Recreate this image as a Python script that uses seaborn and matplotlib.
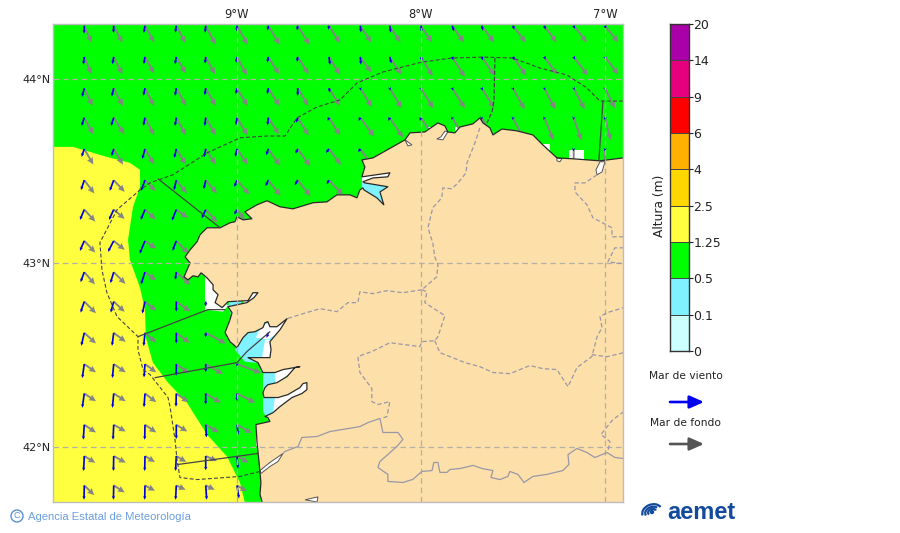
import numpy as np
import matplotlib
matplotlib.use("Agg")
import matplotlib.pyplot as plt
from matplotlib.colors import ListedColormap
from matplotlib.patches import Ellipse, Arc
import seaborn as sns

N = np.nan

# ---- colour scale ----
level_labels = ["0", "0.1", "0.5", "1.25", "2.5", "4", "6", "9", "14", "20"]
level_colors = ["#ccffff", "#80f2ff", "#00ff00", "#ffff40", "#ffd700",
                "#ffb000", "#ff0000", "#e6007e", "#aa00aa"]

# ---- wave grid ----
grid_lon = [-9.83, -9.67, -9.50, -9.33, -9.17, -9.00, -8.83, -8.67, -8.50,
            -8.33, -8.17, -8.00, -7.83, -7.67, -7.50, -7.33, -7.17, -7.00]
grid_lat = [44.29, 44.12, 43.95, 43.79, 43.62, 43.45, 43.29, 43.12,
            42.95, 42.79, 42.62, 42.45, 42.29, 42.12, 41.95, 41.79]

# wind sea, eastward and southward components
wind_east = [
    [-0.3, -0.3, -1.3, -1, -0.7, -0.3, -0.7, -0.7, -0.7, 0.7, 1, 0.7, 1.7, 1.3, 1.3, 1.3, 1, 1],
    [-1, -1.3, -1.3, -1.3, -0.7, -1, -1, -0.7, 1, 0.7, 1.7, 1, 1, 1.3, 1.7, 1.3, 1.3, 1],
    [-2.3, -2, -1.7, -1.3, -1, -1.3, -1, 0, 1, 0.7, 0.7, 1, 1, 1, 1, 1, 1, 1],
    [-2.7, -2.7, -1.7, -1.3, -1, -1, -0.7, -1.7, -1.3, -1.7, -1.3, -1.3, -0.7, -0.3, -0.7, -0.7, -0.7, -0.7],
    [-2.7, -2.3, -2.7, -2, -1.7, -1.7, -2, -2.3, -3, -2, -1.7, N, N, N, N, N, -0.5, -0.5],
    [-3.3, -4, -4, -2.3, -2, -2.7, -2.7, -3, -2.3, N, N, N, N, N, N, N, N, N],
    [-4.3, -4.7, -4.3, -4.3, -4, -2.7, N, N, N, N, N, N, N, N, N, N, N, N],
    [-4.3, -5.7, -5.3, -3.7, N, N, N, N, N, N, N, N, N, N, N, N, N, N],
    [-3.7, -3.3, -4, -1, N, N, N, N, N, N, N, N, N, N, N, N, N, N],
    [-3.7, -3, -2.7, 0, 0, N, N, N, N, N, N, N, N, N, N, N, N, N],
    [-3, -1.7, -1.3, 0, 0, N, -1.7, N, N, N, N, N, N, N, N, N, N, N],
    [-2, -1.3, -1, 0, 0, 0, N, N, N, N, N, N, N, N, N, N, N, N],
    [-2, -1.3, -1, -0.3, 0, 0, N, N, N, N, N, N, N, N, N, N, N, N],
    [-1, -0.7, -0.3, 0, 0.7, 1.3, N, N, N, N, N, N, N, N, N, N, N, N],
    [-0.7, -0.3, -0.3, -0.7, 0, 1, N, N, N, N, N, N, N, N, N, N, N, N],
    [-0.3, -0.3, -0.3, -0.7, 1, 2, N, N, N, N, N, N, N, N, N, N, N, N],
]
wind_south = [
    [8, 7.3, 7.3, 7, 7, 5.7, 5, 4.7, 4, 6.7, 7, 6.7, 5.7, 5, 4, 4, 3.3, 3.3],
    [7.7, 7.3, 7.3, 7.3, 6.7, 6, 5.7, 5, 8, 7.7, 6.7, 4.3, 3.3, 3.3, 3.3, 2.7, 2.7, 2.7],
    [8.7, 8.3, 7.7, 7.7, 7, 6, 6, 7.7, 4.3, 2.3, 2.3, 2.3, 2.3, 2.3, 2, 2, 2, 2],
    [8.3, 8.3, 8.3, 8.3, 8.3, 7.7, 7.7, 5, 3.3, 3.3, 3.3, 3.3, 2.3, 2.3, 2.3, 2.3, 2.3, 2.3],
    [8, 7.3, 10, 9, 8.3, 8, 6.3, 4.7, 4, 3.3, 3.3, N, N, N, N, N, 2.5, 2.5],
    [10, 10.7, 10.7, 10, 9, 6.7, 6, 5, 4, N, N, N, N, N, N, N, N, N],
    [10.3, 10.3, 10.3, 11, 8.7, 5, N, N, N, N, N, N, N, N, N, N, N, N],
    [10, 11, 12.7, 10, N, N, N, N, N, N, N, N, N, N, N, N, N, N],
    [10, 11, 12.3, 7.7, N, N, N, N, N, N, N, N, N, N, N, N, N, N],
    [11, 11, 12, 10, 5, N, N, N, N, N, N, N, N, N, N, N, N, N],
    [13, 13, 13.3, 10.7, 4.7, N, 5, N, N, N, N, N, N, N, N, N, N, N],
    [14, 14, 13.3, 11.7, 8.3, 2.7, N, N, N, N, N, N, N, N, N, N, N, N],
    [14.3, 14.3, 13.7, 13.3, 11, 7.7, N, N, N, N, N, N, N, N, N, N, N, N],
    [15, 15, 15, 14.3, 12.7, 10, N, N, N, N, N, N, N, N, N, N, N, N],
    [15, 15, 15, 15, 14.3, 12.7, N, N, N, N, N, N, N, N, N, N, N, N],
    [14.3, 14.3, 14.3, 14.3, 14.3, 13, N, N, N, N, N, N, N, N, N, N, N, N],
]

# swell, eastward and southward components
swell_east = [
    [7.5, 8.7, 9.3, 9.3, 10, 10.7, 11.3, 11.7, 11, 11, 10.7, 11, 11.7, 12.3, 12.7, 12.3, 13.3, 13.3],
    [7.3, 8.7, 9.3, 9.7, 9.3, 10, 11, 11, 11, 11, 11.7, 11.7, 12.7, 13, 13.3, 13, 14.3, 13.3],
    [8.3, 9.3, 9.3, 10, 10, 10.7, 11.3, 10.7, 11, 11.7, 12, 12.3, 12.7, 12.7, 11.7, 11, 11, 10],
    [9, 10.7, 9.3, 9.7, 10, 10.7, 10.7, 11, 11, 14, 13.3, 13, 12, 11, 10.5, 9.3, 7.7, 5.7],
    [9, 9.3, 9.3, 9.7, 10, 10.7, 11.7, 12.3, 12, 12, 12, N, N, N, N, N, 0, -0.5],
    [10, 11, 10.7, 10.7, 11.3, 12.3, 12.3, 12.7, 14, N, N, N, N, N, N, N, N, N],
    [11, 11, 10.7, 11.7, 11.7, 8, N, N, N, N, N, N, N, N, N, N, N, N],
    [11, 11, 11.3, 12.3, N, N, N, N, N, N, N, N, N, N, N, N, N, N],
    [10.7, 11.7, 11.3, 14, N, N, N, N, N, N, N, N, N, N, N, N, N, N],
    [11.7, 11, 11.3, 14, N, N, N, N, N, N, N, N, N, N, N, N, N, N],
    [11.7, 12, 11.3, 13.3, 20, N, N, N, N, N, N, N, N, N, N, N, N, N],
    [11.7, 12, 11.3, 12.7, 17.3, 24, N, N, N, N, N, N, N, N, N, N, N, N],
    [11.7, 12, 11.3, 12.3, 15, 18.3, N, N, N, N, N, N, N, N, N, N, N, N],
    [11.7, 12, 11.3, 11, 13.3, 14.7, N, N, N, N, N, N, N, N, N, N, N, N],
    [11, 12, 10, 10, 11.3, 11.7, N, N, N, N, N, N, N, N, N, N, N, N],
    [10, 11, 10, 9.3, 9, 10, N, N, N, N, N, N, N, N, N, N, N, N],
]
swell_south = [
    [17, 17, 17, 17.3, 19, 19, 19, 19, 17.5, 16.7, 16.7, 16.7, 16.7, 16.7, 16.7, 16.7, 16.7, 16.7],
    [17.3, 17.3, 16.7, 16.7, 17.3, 18.3, 17.3, 17.3, 18, 15.3, 17.7, 19.3, 20, 18.7, 18.7, 17.7, 18.7, 17.7],
    [17.7, 17.7, 17.7, 17.7, 17.7, 17.7, 17.7, 17.7, 17.7, 19, 20, 20, 20, 20, 21, 21, 21, 20],
    [16.7, 16.7, 17.7, 17.7, 17.7, 17.7, 16.7, 17.7, 17.7, 19, 20, 20, 20, 20, 21, 22.7, 22.7, 22.7],
    [15.7, 15.7, 15.7, 15.7, 15.7, 15.7, 16.7, 17.3, 16, 17, 17, N, N, N, N, N, 18, 18],
    [13.3, 11.7, 11, 13.3, 13.3, 14.3, 15.7, 16, 15, N, N, N, N, N, N, N, N, N],
    [12, 9.3, 10, 8.3, 12.7, 10, N, N, N, N, N, N, N, N, N, N, N, N],
    [11.7, 9, 8, 12.7, N, N, N, N, N, N, N, N, N, N, N, N, N, N],
    [12.3, 11.7, 8.3, 12.7, N, N, N, N, N, N, N, N, N, N, N, N, N, N],
    [11.7, 10.3, 9.3, 10, N, N, N, N, N, N, N, N, N, N, N, N, N, N],
    [10.7, 9, 9.7, 10, 10.7, N, N, N, N, N, N, N, N, N, N, N, N, N],
    [8.3, 8.3, 8.3, 9, 10, 9, N, N, N, N, N, N, N, N, N, N, N, N],
    [7.7, 7.7, 8.7, 8.7, 9.3, 9.3, N, N, N, N, N, N, N, N, N, N, N, N],
    [7.7, 6.7, 7.7, 6.7, 7.7, 8.3, N, N, N, N, N, N, N, N, N, N, N, N],
    [6.7, 6.7, 6, 6, 5, 6.7, N, N, N, N, N, N, N, N, N, N, N, N],
    [9.7, 7, 5.3, 4.3, 4.3, 6, N, N, N, N, N, N, N, N, N, N, N, N],
]

# ---- sea height area above 1.25 m (lon, lat) ----
high_sea = [(-10, 43.631), (-9.891, 43.631), (-9.706, 43.576), (-9.582, 43.544), (-9.527, 43.506),
            (-9.527, 43.414), (-9.565, 43.305), (-9.592, 43.126), (-9.582, 43.017), (-9.527, 42.865),
            (-9.500, 42.746), (-9.495, 42.594), (-9.457, 42.458), (-9.375, 42.349), (-9.272, 42.240),
            (-9.163, 42.067), (-9.054, 41.947), (-8.984, 41.806), (-8.957, 41.697), (-10, 41.697)]

# ---- coast (lon, lat), south to east ----
coast = [(-8.864, 41.703), (-8.875, 41.741), (-8.870, 41.806), (-8.875, 41.861), (-8.880, 41.915),
         (-8.891, 42.023), (-8.897, 42.121), (-8.821, 42.138), (-8.832, 42.159), (-8.848, 42.165),
         (-8.804, 42.186), (-8.766, 42.219), (-8.701, 42.268), (-8.647, 42.290), (-8.620, 42.311),
         (-8.620, 42.349), (-8.641, 42.344), (-8.658, 42.322), (-8.723, 42.284), (-8.777, 42.268),
         (-8.853, 42.268), (-8.859, 42.295), (-8.848, 42.322), (-8.832, 42.338), (-8.783, 42.349),
         (-8.728, 42.382), (-8.685, 42.431), (-8.658, 42.436), (-8.750, 42.420), (-8.793, 42.404),
         (-8.859, 42.404), (-8.886, 42.458), (-8.940, 42.485), (-8.886, 42.485), (-8.821, 42.485),
         (-8.815, 42.528), (-8.821, 42.572), (-8.766, 42.637), (-8.728, 42.697), (-8.783, 42.653),
         (-8.821, 42.653), (-8.832, 42.680), (-8.848, 42.675), (-8.859, 42.648), (-8.902, 42.626),
         (-8.940, 42.621), (-8.967, 42.594), (-9.000, 42.539), (-9.038, 42.572), (-9.065, 42.621),
         (-9.038, 42.691), (-9.027, 42.729), (-9.049, 42.762), (-8.946, 42.784), (-8.908, 42.811),
         (-8.886, 42.838), (-8.913, 42.838), (-8.940, 42.795), (-9.049, 42.789), (-9.081, 42.757),
         (-9.119, 42.784), (-9.103, 42.827), (-9.130, 42.854), (-9.130, 42.881), (-9.163, 42.919),
         (-9.195, 42.946), (-9.212, 42.924), (-9.239, 42.930), (-9.266, 42.908), (-9.288, 42.924),
         (-9.255, 43.000), (-9.282, 43.033), (-9.255, 43.071), (-9.217, 43.115), (-9.201, 43.153),
         (-9.163, 43.191), (-9.092, 43.191), (-9.038, 43.218), (-9.011, 43.224), (-9.000, 43.251),
         (-8.967, 43.234), (-8.919, 43.240), (-8.957, 43.278), (-8.891, 43.316), (-8.837, 43.338),
         (-8.766, 43.305), (-8.696, 43.294), (-8.587, 43.327), (-8.511, 43.332), (-8.457, 43.370),
         (-8.386, 43.370), (-8.348, 43.354), (-8.332, 43.397), (-8.316, 43.408), (-8.310, 43.397),
         (-8.240, 43.354), (-8.202, 43.316), (-8.223, 43.386), (-8.180, 43.414), (-8.305, 43.435),
         (-8.316, 43.441), (-8.261, 43.462), (-8.180, 43.468), (-8.169, 43.490), (-8.321, 43.468),
         (-8.305, 43.522), (-8.321, 43.560), (-8.261, 43.571), (-8.087, 43.669), (-8.060, 43.707),
         (-7.979, 43.712), (-7.908, 43.761), (-7.870, 43.745), (-7.854, 43.712), (-7.816, 43.707),
         (-7.788, 43.739), (-7.718, 43.756), (-7.680, 43.788), (-7.663, 43.761), (-7.625, 43.734),
         (-7.609, 43.696), (-7.560, 43.728), (-7.479, 43.718), (-7.392, 43.696), (-7.338, 43.642),
         (-7.261, 43.571), (-7.174, 43.566), (-7.027, 43.555), (-6.902, 43.571)]
land_corners = [(-6.85, 43.571), (-6.85, 41.65), (-8.864, 41.65)]

# water inside the rias, drawn below the land
ria_shallow = [
    [(-9.011, 42.528), (-8.957, 42.610), (-8.864, 42.664), (-8.712, 42.718), (-8.793, 42.447), (-8.957, 42.463)],
    [(-8.859, 42.420), (-8.766, 42.420), (-8.766, 42.338), (-8.859, 42.268)],
    [(-8.859, 42.273), (-8.793, 42.273), (-8.793, 42.192), (-8.832, 42.148), (-8.859, 42.192)],
    [(-9.038, 42.805), (-8.973, 42.805), (-8.984, 42.751), (-9.027, 42.708), (-9.049, 42.762)],
    [(-8.321, 43.441), (-8.169, 43.425), (-8.196, 43.305), (-8.321, 43.386)],
]
ria_dry = [
    [(-8.864, 42.664), (-8.793, 42.680), (-8.723, 42.702), (-8.766, 42.626), (-8.832, 42.583), (-8.897, 42.594)],
    [(-8.848, 42.583), (-8.810, 42.583), (-8.810, 42.485), (-8.864, 42.485)],
    [(-8.793, 42.420), (-8.674, 42.447), (-8.701, 42.409), (-8.755, 42.365), (-8.793, 42.338)],
    [(-8.793, 42.273), (-8.614, 42.355), (-8.614, 42.306), (-8.766, 42.219), (-8.804, 42.186)],
    [(-8.973, 42.805), (-8.880, 42.849), (-8.908, 42.800), (-8.957, 42.767)],
    [(-9.174, 42.924), (-9.174, 42.746), (-9.076, 42.735), (-9.049, 42.767), (-9.081, 42.795), (-9.119, 42.849), (-9.136, 42.924)],
    [(-8.321, 43.468), (-8.163, 43.495), (-8.169, 43.462), (-8.321, 43.435)],
    [(-7.197, 43.615), (-7.115, 43.615), (-7.115, 43.560), (-7.197, 43.560)],
    [(-7.348, 43.648), (-7.299, 43.648), (-7.299, 43.590), (-7.348, 43.590)],
    [(-7.968, 43.740), (-7.919, 43.740), (-7.919, 43.700), (-7.968, 43.700)],
    [(-7.816, 43.740), (-7.767, 43.740), (-7.767, 43.715), (-7.816, 43.715)],
    [(-8.897, 42.110), (-8.870, 42.110), (-8.870, 42.006), (-8.897, 42.006)],
]
# narrow estuaries cut into the land
estuaries = [
    [(-8.875, 41.871), (-8.821, 41.915), (-8.750, 41.964), (-8.777, 41.920), (-8.821, 41.893), (-8.870, 41.855)],
    [(-7.027, 43.550), (-7.000, 43.550), (-7.016, 43.495), (-7.043, 43.479), (-7.049, 43.506)],
    [(-7.914, 43.674), (-7.881, 43.669), (-7.854, 43.712), (-7.870, 43.717), (-7.892, 43.685)],
    [(-8.087, 43.669), (-8.049, 43.642), (-8.071, 43.636)],
    [(-7.261, 43.571), (-7.234, 43.566), (-7.245, 43.550), (-7.261, 43.555)],
    [(-8.630, 41.712), (-8.560, 41.728), (-8.565, 41.700)],
]

# ---- lines ----
limit_line = [(-6.902, 43.880), (-7.027, 43.880), (-7.098, 43.951), (-7.207, 44.022), (-7.354, 44.060),
              (-7.501, 44.114), (-7.663, 44.119), (-7.832, 44.114), (-7.995, 44.092), (-8.207, 44.038),
              (-8.348, 43.978), (-8.440, 43.886), (-8.565, 43.848), (-8.674, 43.788), (-8.739, 43.690),
              (-8.837, 43.690), (-8.984, 43.680), (-9.163, 43.598), (-9.348, 43.479), (-9.473, 43.435),
              (-9.527, 43.397), (-9.652, 43.289), (-9.745, 43.110), (-9.734, 42.963), (-9.707, 42.838),
              (-9.652, 42.708), (-9.538, 42.599), (-9.538, 42.528), (-9.511, 42.420), (-9.473, 42.393),
              (-9.375, 42.268), (-9.364, 42.219), (-9.337, 42.040), (-9.326, 41.931), (-9.310, 41.833),
              (-9.217, 41.822), (-8.984, 41.839), (-8.875, 41.866)]
zone_lines = [
    [(-9.429, 43.457), (-9.092, 43.191)],
    [(-9.538, 42.599), (-9.158, 42.746), (-9.065, 42.746)],
    [(-9.446, 42.376), (-9.000, 42.458), (-8.946, 42.518), (-8.821, 42.626)],
    [(-9.321, 41.904), (-8.886, 41.964)],
    [(-7.011, 43.880), (-7.033, 43.560)],
]
zone_dashed = [[(-7.598, 44.114), (-7.603, 43.886), (-7.614, 43.821), (-7.641, 43.761)]]
province_lines = [
    [(-7.680, 43.734), (-7.707, 43.652), (-7.750, 43.544), (-7.755, 43.490), (-7.799, 43.435), (-7.832, 43.403),
     (-7.881, 43.408), (-7.887, 43.354), (-7.936, 43.300), (-7.962, 43.191), (-7.936, 43.109), (-7.925, 43.033),
     (-7.908, 42.990), (-7.914, 42.925), (-7.995, 42.854)],
    [(-7.995, 42.854), (-8.099, 42.838), (-8.185, 42.849), (-8.261, 42.833), (-8.332, 42.843), (-8.343, 42.784),
     (-8.397, 42.784), (-8.457, 42.735), (-8.549, 42.751), (-8.641, 42.724), (-8.728, 42.697)],
    [(-7.995, 42.854), (-7.968, 42.843), (-7.979, 42.784), (-7.870, 42.713), (-7.908, 42.599), (-7.925, 42.577),
     (-7.995, 42.572), (-8.006, 42.545), (-8.169, 42.566), (-8.267, 42.518), (-8.343, 42.491), (-8.332, 42.404),
     (-8.267, 42.317), (-8.267, 42.246), (-8.234, 42.230), (-8.169, 42.246), (-8.185, 42.165), (-8.212, 42.154)],
    [(-7.925, 42.577), (-7.897, 42.512), (-7.761, 42.458), (-7.680, 42.436), (-7.609, 42.404), (-7.516, 42.398),
     (-7.408, 42.442), (-7.337, 42.425), (-7.261, 42.420), (-7.201, 42.327), (-7.152, 42.431), (-7.071, 42.491),
     (-7.043, 42.599), (-7.016, 42.648), (-7.027, 42.708), (-6.989, 42.729), (-6.902, 42.756)],
    [(-7.071, 42.501), (-6.989, 42.490), (-6.897, 42.512)],
    [(-7.043, 43.479), (-7.109, 43.435), (-7.163, 43.435), (-7.163, 43.386), (-7.098, 43.316), (-7.065, 43.245),
     (-6.962, 43.191), (-6.962, 43.142), (-6.897, 43.142)],
    [(-6.897, 43.082), (-6.946, 43.082), (-6.984, 43.006), (-6.897, 42.995)],
    [(-6.897, 42.192), (-6.957, 42.148), (-7.022, 42.067), (-6.973, 42.029), (-6.984, 41.975)],
]
border_river = [(-8.750, 41.964), (-8.739, 41.975), (-8.668, 42.002), (-8.647, 42.051), (-8.565, 42.056),
                (-8.495, 42.083), (-8.332, 42.110), (-8.288, 42.132), (-8.223, 42.154), (-8.207, 42.078),
                (-8.125, 42.078), (-8.098, 42.040), (-8.131, 42.002), (-8.223, 41.920), (-8.234, 41.888),
                (-8.180, 41.850), (-8.180, 41.812), (-8.098, 41.806), (-8.044, 41.823), (-7.995, 41.866),
                (-7.940, 41.871), (-7.930, 41.915), (-7.908, 41.915), (-7.897, 41.861), (-7.859, 41.861),
                (-7.842, 41.877), (-7.788, 41.882), (-7.717, 41.899), (-7.668, 41.882), (-7.609, 41.871),
                (-7.620, 41.833), (-7.571, 41.822), (-7.528, 41.839), (-7.517, 41.866), (-7.473, 41.850),
                (-7.440, 41.806), (-7.392, 41.839), (-7.316, 41.850), (-7.229, 41.871), (-7.196, 41.904),
                (-7.201, 41.958), (-7.152, 41.991), (-7.098, 41.969), (-7.055, 41.942), (-6.989, 41.969),
                (-6.946, 41.942), (-6.897, 41.936)]

lon_ticks = [-9, -8, -7]
lon_labels = ["9°W", "8°W", "7°W"]
lat_ticks = [42, 43, 44]
lat_labels = ["42°N", "43°N", "44°N"]

# ---- figure ----
sns.set_theme(style="white")
plt.rcParams["font.family"] = ["DejaVu Sans"]
W, H = 900, 533
fig = plt.figure(figsize=(W / 100, H / 100), dpi=100, facecolor="white")


def box(x0, y0, x1, y1):
    return [x0 / W, 1 - y1 / H, (x1 - x0) / W, (y1 - y0) / H]


ax = fig.add_axes(box(53, 24, 623, 502))
ax.set_xlim(-10, -6.902)
ax.set_ylim(41.70, 44.299)
ax.set_facecolor(level_colors[2])


def fill(points, color, z):
    a = np.array(points)
    ax.fill(a[:, 0], a[:, 1], color=color, lw=0, zorder=z)


def line(points, color, lw, z, ls="-"):
    a = np.array(points)
    ax.plot(a[:, 0], a[:, 1], color=color, lw=lw, ls=ls, zorder=z, solid_capstyle="round", solid_joinstyle="round")


fill(high_sea, level_colors[3], 1)
for p in ria_shallow:
    fill(p, level_colors[1], 2)
for p in ria_dry:
    fill(p, "white", 2.5)

X, Y = np.meshgrid(grid_lon, grid_lat)
px = 184.0  # table units per degree of map
ax.quiver(X, Y, np.array(swell_east), -np.array(swell_south), angles="xy", scale_units="xy", scale=px,
          units="dots", width=1.9, headwidth=3.4, headlength=3.6, headaxislength=3.3,
          color="#858585", zorder=3)
ax.quiver(X, Y, np.array(wind_east), -np.array(wind_south), angles="xy", scale_units="xy", scale=px,
          units="dots", width=1.7, headwidth=1.9, headlength=2.0, headaxislength=1.9, minlength=0.2, minshaft=0.5,
          color="#0000e6", zorder=3.5)

fill(coast + land_corners, "#fddfa9", 4)
for p in estuaries:
    a = np.array(p)
    ax.fill(a[:, 0], a[:, 1], facecolor="white", edgecolor="#555555", lw=0.7, zorder=4.5)
line(coast, "#2a2a2a", 0.9, 5)

for g in lon_ticks:
    ax.axvline(g, color="#b4b0a8", lw=0.9, dashes=(4.5, 3), zorder=6)
for g in lat_ticks:
    ax.axhline(g, color="#b4b0a8", lw=0.9, dashes=(4.5, 3), zorder=6)
for p in province_lines:
    line(p, "#9a97a8", 0.9, 6.5, ls=(0, (3.5, 2)))
line(border_river, "#9a97a8", 0.9, 6.5)
line(limit_line, "#444444", 0.8, 7, ls=(0, (3.5, 2)))
for p in zone_lines:
    line(p, "#444444", 0.9, 7)
for p in zone_dashed:
    line(p, "#444444", 0.9, 7, ls=(0, (3.5, 1.5)))

ax.xaxis.tick_top()
ax.set_xticks(lon_ticks, lon_labels, fontsize=8.3, color="#222222")
ax.set_yticks(lat_ticks, lat_labels, fontsize=8, color="#222222")
ax.tick_params(axis="x", length=0, pad=2.5)
ax.tick_params(axis="y", length=0, pad=2)
for s in ax.spines.values():
    s.set_color("#bdbdbd")
    s.set_linewidth(1)
    s.set_zorder(8)

# colour bar
cax = fig.add_axes(box(669.5, 24, 688.5, 351))
cells = np.arange(len(level_colors))[::-1].reshape(-1, 1)
sns.heatmap(cells, ax=cax, cmap=ListedColormap(level_colors), cbar=False,
            linewidths=0.7, linecolor="#444444", xticklabels=False)
cax.yaxis.tick_right()
cax.set_yticks(np.arange(len(level_labels)), level_labels[::-1], rotation=0, fontsize=9, color="#222222")
cax.tick_params(axis="y", length=3, width=0.8, pad=0.5, color="#222222", right=True)
for s in cax.spines.values():
    s.set_visible(True)
    s.set_color("#333333")
    s.set_linewidth(1)

# overlay in figure pixels: legend, credit, logo
ov = fig.add_axes([0, 0, 1, 1], facecolor="none")
ov.set_xlim(0, W)
ov.set_ylim(H, 0)
ov.axis("off")
ov.text(659, 206, "Altura (m)", rotation=90, ha="center", va="center", fontsize=8.8, color="#222222")
ov.text(686, 376, "Mar de viento", ha="center", va="center", fontsize=7.7, color="#222222")
ov.text(685, 423, "Mar de fondo", ha="center", va="center", fontsize=7.7, color="#222222")
for y, c in ((402, "#0000ee"), (444, "#555555")):
    ov.annotate("", xy=(704, y), xytext=(670, y),
                arrowprops=dict(arrowstyle="-|>,head_width=0.32,head_length=0.72", color=c, lw=1.9, shrinkA=0, shrinkB=0))
ov.text(28, 516.5, "Agencia Estatal de Meteorología", ha="left", va="center", fontsize=8.15,
        color="#6b9fe0", family="Liberation Sans")
ov.add_patch(Ellipse((17, 516), 12, 12, fill=False, ec="#5a90d8", lw=1))
ov.text(17, 516, "C", ha="center", va="center", fontsize=6.5, color="#5a90d8", family="Liberation Sans")
ov.text(667, 512.5, "aemet", ha="left", va="center", fontsize=17, fontweight="bold",
        color="#124a9c", family="Liberation Sans")
for w, h, t1, t2 in ((20, 15, 180, 350), (14, 10, 170, 340), (8, 6, 160, 360)):
    ov.add_patch(Arc((652, 512), w, h, angle=-20, theta1=t1, theta2=t2, color="#124a9c", lw=1.6))
ov.add_patch(Ellipse((652, 512), 3, 3, color="#124a9c"))

fig.savefig("out.png", dpi=100)
